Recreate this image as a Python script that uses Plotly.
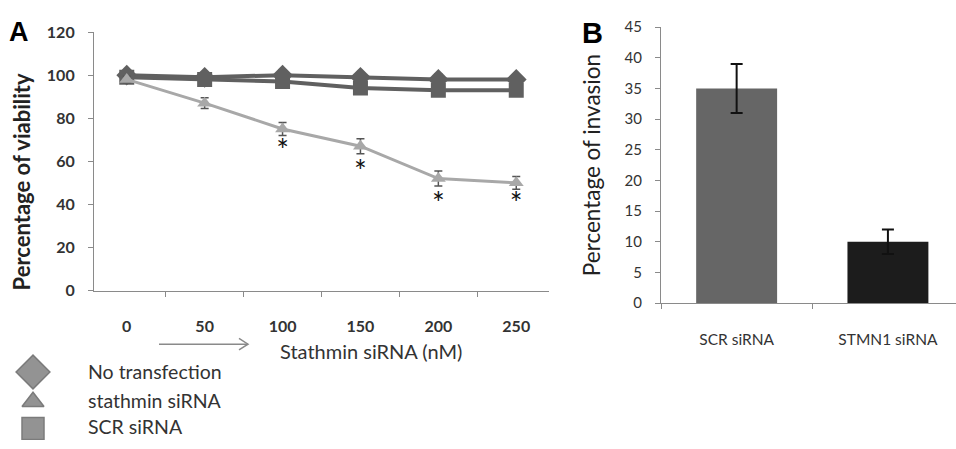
import plotly.graph_objects as go

# ---------------- data ----------------
doses = ["0", "50", "100", "150", "200", "250"]
no_transfection = [100, 99, 100, 99, 98, 98]
no_transfection_err = [1.5, 1.5, 2.5, 1.5, 2.5, 1.5]
scr_sirna = [99, 98, 97, 94, 93, 93]
scr_sirna_err = [1.5, 1.5, 1.5, 2.0, 1.5, 1.5]
stathmin_sirna = [98, 87, 75, 67, 52, 50]
stathmin_sirna_err = [1.5, 2.5, 3.0, 3.5, 3.5, 3.0]
star_y = [None, None, 63.5, 54, 39, 39]

groups_b = ["SCR siRNA", "STMN1 siRNA"]
invasion = [35, 10]
invasion_err = [4, 2]

legend_names = ["No transfection", "stathmin siRNA", "SCR siRNA"]
legend_symbols = ["diamond", "triangle-up", "square"]
legend_sizes = [26, 19, 22]
legend_marker_rows = [378, 409, 437]
legend_text_rows = [380, 411, 438]

W, H = 956, 449
FONT = "Lato, 'Open Sans', sans-serif"
DARK = "#606060"
LIGHT = "#a8a8a8"


def px(x):
    return x / W


def py(y):
    return 1 - y / H


fig = go.Figure()

# ---------- Panel A ----------
fig.add_trace(go.Scatter(
    x=doses, y=no_transfection, mode="lines+markers",
    line=dict(color=DARK, width=4),
    marker=dict(symbol="diamond", size=16, color=DARK),
    error_y=dict(type="data", array=no_transfection_err, color="#444", thickness=1.5, width=4),
    xaxis="x", yaxis="y", showlegend=False))
fig.add_trace(go.Scatter(
    x=doses, y=scr_sirna, mode="lines+markers",
    line=dict(color=DARK, width=4),
    marker=dict(symbol="square", size=15, color=DARK),
    error_y=dict(type="data", array=scr_sirna_err, color="#444", thickness=1.5, width=4),
    xaxis="x", yaxis="y", showlegend=False))
fig.add_trace(go.Scatter(
    x=doses, y=stathmin_sirna, mode="lines+markers",
    line=dict(color=LIGHT, width=3),
    marker=dict(symbol="triangle-up", size=13, color=LIGHT),
    error_y=dict(type="data", array=stathmin_sirna_err, color="#555", thickness=1.5, width=4),
    xaxis="x", yaxis="y", showlegend=False))
fig.add_trace(go.Scatter(
    x=doses, y=star_y, mode="text", text=["*" if v is not None else "" for v in star_y],
    textfont=dict(size=30, color="#111", family=FONT),
    xaxis="x", yaxis="y", showlegend=False, hoverinfo="skip"))

# ---------- Panel B ----------
fig.add_trace(go.Bar(
    x=groups_b, y=invasion, marker=dict(color=["#666666", "#1c1c1c"], line=dict(width=0)),
    width=0.535,
    error_y=dict(type="data", array=invasion_err, color="#111", thickness=2, width=6),
    xaxis="x2", yaxis="y2", showlegend=False))

# ---------- pseudo legend ----------
fig.add_trace(go.Scatter(
    x=[33, 33, 33], y=legend_marker_rows, mode="markers",
    marker=dict(symbol=legend_symbols, size=legend_sizes, color="#666666",
                line=dict(color="#444", width=1.5)),
    xaxis="x3", yaxis="y3", showlegend=False, hoverinfo="skip"))
fig.add_trace(go.Scatter(
    x=[88, 88, 88], y=legend_text_rows, mode="text", text=legend_names,
    textposition="middle right",
    textfont=dict(size=19.5, color="#333", family=FONT),
    xaxis="x3", yaxis="y3", showlegend=False, hoverinfo="skip"))

axis_line = dict(showline=True, linecolor="#8a8a8a", linewidth=1.2, showgrid=False,
                 zeroline=False, ticks="outside", tickcolor="#8a8a8a", ticklen=5)

fig.update_layout(
    width=W, height=H, margin=dict(l=0, r=0, t=0, b=0),
    paper_bgcolor="white", plot_bgcolor="white",
    font=dict(family=FONT, color="#333"),
    xaxis=dict(domain=[px(94), px(549)], anchor="y", type="category",
               tickson="boundaries", ticklabelstandoff=21,
               tickfont=dict(size=16, color="#333", weight="bold"), **axis_line),
    yaxis=dict(domain=[py(293), py(23)], anchor="x", range=[0, 120], dtick=20,
               ticklabelstandoff=10,
               tickfont=dict(size=16, color="#333", weight="bold"), **axis_line),
    xaxis2=dict(domain=[px(661), 1.0], anchor="y2", type="category", range=[-0.5, 1.45],
                tickson="boundaries", ticklabelstandoff=22,
                tickfont=dict(size=15.5, color="#333"), **axis_line),
    yaxis2=dict(domain=[py(306), py(18)], anchor="x2", range=[0, 45], dtick=5,
                ticklabelstandoff=10,
                tickfont=dict(size=15, color="#333"), **axis_line),
    xaxis3=dict(domain=[0, 0.25], range=[0, 0.25 * W], visible=False, anchor="y3"),
    yaxis3=dict(domain=[0, 0.25], range=[H, H - 0.25 * H], visible=False, anchor="x3"),
    shapes=[
        dict(type="line", xref="paper", yref="paper", x0=px(159), x1=px(248), y0=py(349), y1=py(349),
             line=dict(color="#8a8a8a", width=1.5)),
        dict(type="path", xref="paper", yref="paper",
             path=f"M {px(239)} {py(343)} L {px(248)} {py(349)} L {px(239)} {py(355)}",
             line=dict(color="#8a8a8a", width=1.5)),
    ],
    annotations=[
        dict(text="<b>A</b>", x=px(7), y=py(23), xref="paper", yref="paper", showarrow=False,
             xanchor="left", yanchor="middle", font=dict(size=27, color="#000", family="Arial")),
        dict(text="<b>B</b>", x=px(580), y=py(24), xref="paper", yref="paper", showarrow=False,
             xanchor="left", yanchor="middle", font=dict(size=29, color="#000", family="Arial")),
        dict(text="Percentage of viability", x=px(21), y=py(180), xref="paper", yref="paper",
             showarrow=False, textangle=-90, xanchor="center", yanchor="middle",
             font=dict(size=22, color="#222", weight="bold")),
        dict(text="Percentage of invasion", x=px(591), y=py(162), xref="paper", yref="paper",
             showarrow=False, textangle=-90, xanchor="center", yanchor="middle",
             font=dict(size=22.5, color="#222")),
        dict(text="Stathmin siRNA (nM)", x=px(278), y=py(356), xref="paper", yref="paper",
             showarrow=False, xanchor="left", yanchor="middle",
             font=dict(size=20, color="#333")),
    ],
)

fig.write_html("out.html")
